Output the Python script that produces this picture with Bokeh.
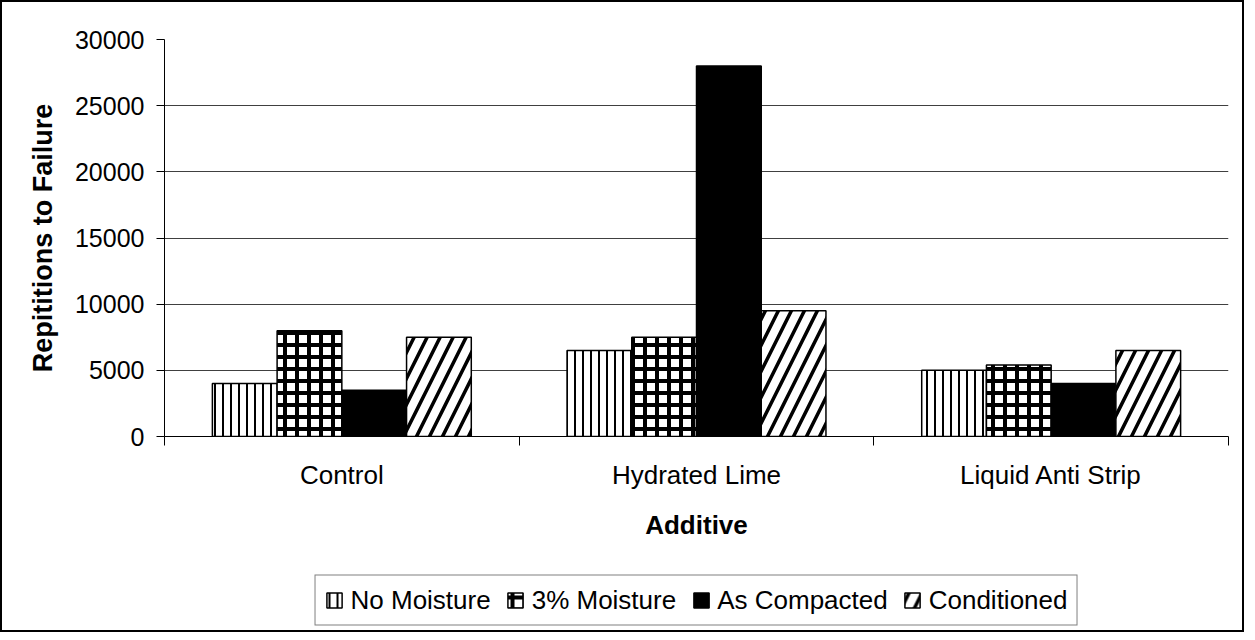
import numpy as np
from bokeh.plotting import figure
from bokeh.layouts import column
from bokeh.models import (ColumnDataSource, Range1d, FixedTicker, Legend, LegendItem)
from bokeh.transform import dodge
from bokeh.embed import file_html
from bokeh.resources import INLINE

# ---- data ----
additives = ["Control", "Hydrated Lime", "Liquid Anti Strip"]
series_names = ["No Moisture", "3% Moisture", "As Compacted", "Conditioned"]
no_moisture = [4000, 6500, 5000]
moisture_3 = [8000, 7500, 5400]
as_compacted = [3500, 28000, 4000]
conditioned = [7500, 9500, 6500]
y_ticks = [0, 5000, 10000, 15000, 20000, 25000, 30000]

FONT = "Liberation Sans"

styles = [
    dict(fill_color="white", hatch_pattern="vertical_line", hatch_color="black",
         hatch_scale=8, hatch_weight=2),
    dict(fill_color="white", hatch_pattern="cross", hatch_color="black",
         hatch_scale=12, hatch_weight=4),
    dict(fill_color="black"),
    dict(fill_color="white", hatch_pattern="right_diagonal_line", hatch_color="black",
         hatch_scale=26, hatch_weight=3.5),
]

xc = np.arange(len(additives)) + 0.5
source = ColumnDataSource(dict(x=xc, nm=no_moisture, m3=moisture_3,
                               ac=as_compacted, co=conditioned))

W = 1240
H_MAIN, H_LEG = 568, 60
p = figure(width=W, height=H_MAIN, x_range=Range1d(0, len(additives)),
           y_range=Range1d(0, 30000), output_backend="svg",
           toolbar_location=None, tools="",
           min_border_left=162, min_border_right=14,
           min_border_top=37, min_border_bottom=H_MAIN - 434)
p.outline_line_color = None
p.background_fill_color = "white"
p.border_fill_color = "white"

group = 0.73
bw = group / 4
offs = [(i - 1.5) * bw for i in range(4)]
cols = ["nm", "m3", "ac", "co"]

for off, col, st in zip(offs, cols, styles):
    p.vbar(x=dodge("x", off, range=p.x_range), top=col, width=bw,
           line_color="black", line_width=1.5, source=source, **st)

# ---- axes ----
p.xgrid.visible = False
p.ygrid.grid_line_color = "#404040"
p.ygrid.grid_line_width = 1

ya = p.yaxis[0]
ya.ticker = FixedTicker(ticks=y_ticks)
ya.axis_line_color = "black"
ya.major_tick_line_color = "black"
ya.major_tick_out = 8
ya.major_tick_in = 0
ya.minor_tick_out = 0
ya.minor_tick_in = 0
ya.major_label_text_font = FONT
ya.major_label_text_font_size = "25px"
ya.major_label_text_color = "black"
ya.major_label_standoff = 12
ya.axis_label = "Repititions to Failure"
ya.axis_label_text_font = FONT
ya.axis_label_text_font_style = "bold"
ya.axis_label_text_font_size = "27px"
ya.axis_label_text_color = "black"
ya.axis_label_standoff = 14

xa = p.xaxis[0]
xa.ticker = FixedTicker(ticks=list(xc), minor_ticks=list(range(len(additives) + 1)))
xa.major_label_overrides = {float(x): a for x, a in zip(xc, additives)}
xa.axis_line_color = "black"
xa.major_tick_out = 0
xa.major_tick_in = 0
xa.major_tick_line_color = None
xa.minor_tick_out = 9
xa.minor_tick_in = 0
xa.minor_tick_line_color = "black"
xa.major_label_text_font = FONT
xa.major_label_text_font_size = "26px"
xa.major_label_text_color = "black"
xa.major_label_standoff = 14
xa.axis_label = "Additive"
xa.axis_label_text_font = FONT
xa.axis_label_text_font_style = "bold"
xa.axis_label_text_font_size = "26px"
xa.axis_label_text_color = "black"
xa.axis_label_standoff = 17

# ---- legend strip: same series styles, renderers hidden (legend only) ----
p2 = figure(width=W, height=H_LEG, x_range=p.x_range, y_range=Range1d(-2, -1),
            output_backend="svg", toolbar_location=None, tools="",
            x_axis_location=None, y_axis_location=None,
            min_border_left=162, min_border_right=14,
            min_border_top=0, min_border_bottom=0)
p2.grid.visible = False
p2.outline_line_color = None
p2.background_fill_color = "white"
p2.border_fill_color = "white"

leg_renderers = [p2.vbar(x=dodge("x", off, range=p2.x_range), top=col, width=bw,
                         line_color="black", line_width=1.5, source=source,
                         visible=False, **st)
                 for off, col, st in zip(offs, cols, styles)]

legend = Legend(items=[LegendItem(label=n, renderers=[r])
                       for n, r in zip(series_names, leg_renderers)],
                orientation="horizontal", location="center",
                border_line_color="black", border_line_width=1.5,
                background_fill_color="white", background_fill_alpha=1,
                inactive_fill_alpha=0,
                label_text_font=FONT, label_text_font_size="26px",
                label_text_color="black",
                glyph_width=19, glyph_height=19, label_standoff=7,
                spacing=15, padding=9, margin=0)
p2.add_layout(legend, "center")

layout = column(p, p2, spacing=0, styles={"border": "2px solid black"})

open("out.html", "w").write(file_html(layout, INLINE))
